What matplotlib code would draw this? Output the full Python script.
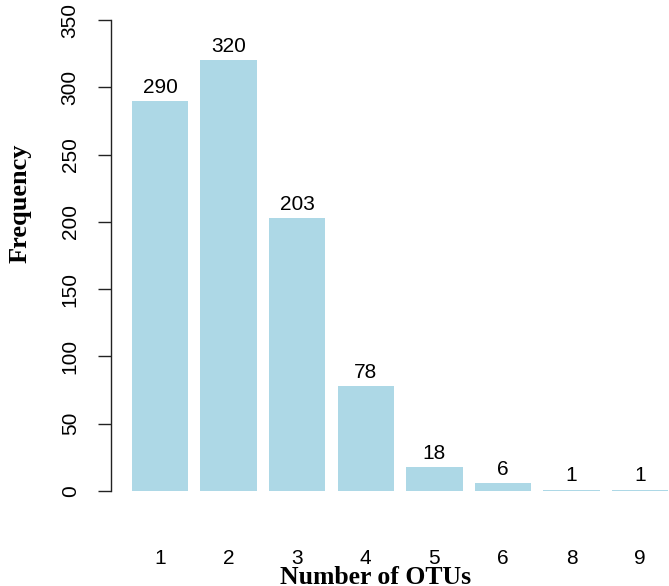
import matplotlib
matplotlib.use("Agg")
import matplotlib.pyplot as plt

categories = ["1", "2", "3", "4", "5", "6", "8", "9"]
frequency = [290, 320, 203, 78, 18, 6, 1, 1]
y_ticks = [0, 50, 100, 150, 200, 250, 300, 350]

W, H = 669, 586
fig = plt.figure(figsize=(W / 100, H / 100), dpi=100)
left, right, top, bottom = 111, 669, 20, 491
ax = fig.add_axes([left / W, 1 - bottom / H, (right - left) / W, (bottom - top) / H])

pos = list(range(len(categories)))
ax.bar(pos, frequency, width=0.82, color="#ADD8E6", edgecolor="none")

sans = "Liberation Sans"
serif = "Liberation Serif"

for p, v in zip(pos, frequency):
    ax.annotate(str(v), (p, v), xytext=(0, 3), textcoords="offset points",
                ha="center", va="bottom", fontsize=15, family=sans)

ax.set_xlim(-0.714, 7.42)
ax.set_ylim(0, 350)

for s in ["top", "right", "bottom"]:
    ax.spines[s].set_visible(False)
ax.spines["left"].set_bounds(0, 350)
ax.spines["left"].set_linewidth(1.0)
ax.spines["left"].set_color("#222222")

ax.set_yticks(y_ticks)
ax.set_yticklabels([str(t) for t in y_ticks], rotation=90, va="center",
                   fontsize=15, family=sans)
ax.tick_params(axis="y", length=9.5, width=1.0, pad=13, color="#222222")
ax.set_xticks(pos)
ax.set_xticklabels(categories, fontsize=15, family=sans)
ax.tick_params(axis="x", length=0, pad=42)

fig.text(20 / W, 1 - 203 / H, "Frequency", rotation=90, ha="center", va="center",
         fontsize=19, fontweight="bold", family=serif)
fig.text(376 / W, 2 / H, "Number of OTUs", ha="center", va="baseline",
         fontsize=18.5, fontweight="bold", family=serif)

fig.savefig("out.png", dpi=100)
